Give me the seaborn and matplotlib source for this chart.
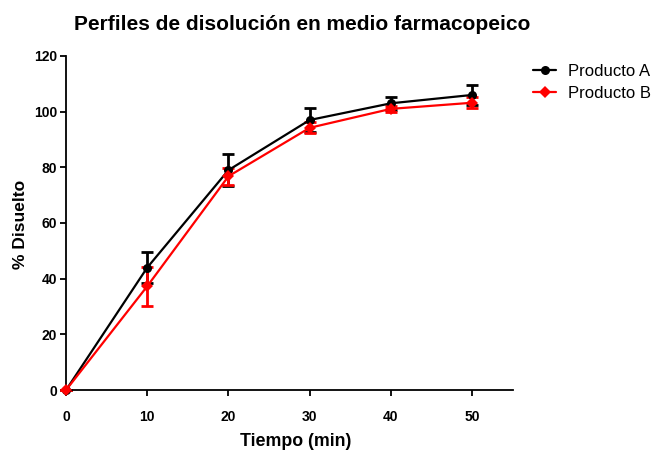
import matplotlib
matplotlib.use("Agg")
import matplotlib.pyplot as plt
import seaborn as sns
import pandas as pd

tiempo = [0, 10, 20, 30, 40, 50]
prod_a = [0, 44.0, 79.0, 97.0, 103.0, 106.0]
sd_a = [0, 5.5, 5.8, 4.2, 2.4, 3.5]
prod_b = [0, 37.3, 76.8, 94.2, 101.0, 103.2]
sd_b = [0, 7.0, 3.0, 2.0, 1.0, 2.0]

sns.set_style("white")
plt.rcParams['font.family'] = ['Liberation Sans', 'DejaVu Sans']
plt.rcParams['text.color'] = 'black'
plt.rcParams['axes.labelcolor'] = 'black'

df = pd.DataFrame({
    "Tiempo": tiempo * 2,
    "Valor": prod_a + prod_b,
    "Producto": ["Producto A"] * len(tiempo) + ["Producto B"] * len(tiempo),
})

fig = plt.figure(figsize=(6.54, 4.5), dpi=100)
ax = fig.add_axes([0.101, 0.1333, 0.683, 0.7423])

palette = {"Producto A": "black", "Producto B": "red"}
ax.errorbar(tiempo, prod_a, yerr=sd_a, fmt="none", ecolor="black",
            elinewidth=2, capsize=4, capthick=2, zorder=1)
ax.errorbar(tiempo, prod_b, yerr=sd_b, fmt="none", ecolor="red",
            elinewidth=2, capsize=4, capthick=2, zorder=2)
sns.lineplot(data=df, x="Tiempo", y="Valor", hue="Producto", style="Producto",
             markers={"Producto A": "o", "Producto B": "D"}, dashes=False,
             palette=palette, ax=ax, linewidth=1.6, markersize=6.5,
             markeredgewidth=0, zorder=3)
for ln in ax.lines:
    ln.set_clip_on(False)

ax.set_xlim(0, 55)
ax.set_ylim(0, 120)
ax.set_xticks([0, 10, 20, 30, 40, 50])
ax.set_yticks([0, 20, 40, 60, 80, 100, 120])
for s in ["top", "right"]:
    ax.spines[s].set_visible(False)
for s in ["left", "bottom"]:
    ax.spines[s].set_color("black")
    ax.spines[s].set_linewidth(1.3)
ax.tick_params(direction="out", length=4.5, width=1.3, colors="black",
               left=True, bottom=True, labelsize=10)
ax.tick_params(axis="x", pad=10)
ax.tick_params(axis="y", pad=2)
for lab in ax.get_xticklabels() + ax.get_yticklabels():
    lab.set_fontweight("bold")

ax.set_xlabel("Tiempo (min)", fontsize=12.8, fontweight="bold")
ax.set_ylabel("% Disuelto", fontsize=12.5, fontweight="bold")
ax.xaxis.set_label_coords(0.515, -0.128)
ax.yaxis.set_label_coords(-0.085, 0.495)
fig.text(302 / 654, 1 - 25 / 450, "Perfiles de disolución en medio farmacopeico",
         fontsize=15, fontweight="bold", ha="center", va="center")

handles, labels = ax.get_legend_handles_labels()
ax.legend(handles, labels, loc="upper left", bbox_to_anchor=(1.045, 0.975),
          frameon=False, fontsize=12, handlelength=1.4, labelspacing=0.4,
          handletextpad=0.7, borderpad=0, borderaxespad=0)

fig.savefig("out.png", dpi=100)
